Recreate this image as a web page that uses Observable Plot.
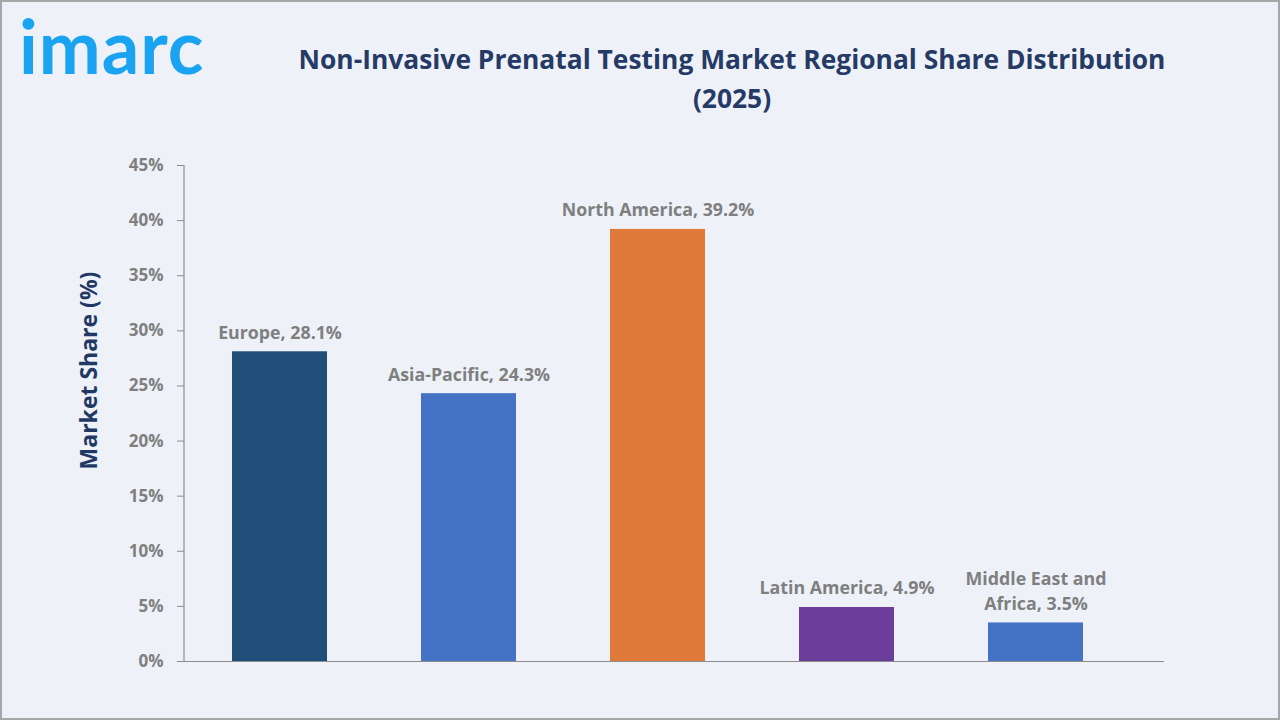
<!DOCTYPE html>
<html><head><meta charset="utf-8">
<script src="https://cdn.jsdelivr.net/npm/d3@7"></script>
<script src="https://cdn.jsdelivr.net/npm/@observablehq/plot@0.6"></script>
<style>
html,body{margin:0;padding:0;}
body{width:1280px;height:720px;background:#eef2f8;position:relative;overflow:hidden;font-family:"Open Sans",sans-serif;}
#frame{position:absolute;left:0;top:0;width:1276px;height:716px;border:2px solid #a6a6a6;pointer-events:none;z-index:5;}
#logo{position:absolute;left:19px;top:9px;font-family:"Lato",sans-serif;font-weight:700;font-size:74px;line-height:74px;color:#1aa3f0;letter-spacing:1px;}
#title{position:absolute;left:282px;width:900px;top:40px;text-align:center;font-weight:700;font-size:26.4px;line-height:39px;color:#263a66;}
#header{height:140px;}
#chart{position:absolute;left:0;top:140px;}
</style></head>
<body>
<div id="frame"></div>
<div id="logo">imarc</div>
<div id="title">Non-Invasive Prenatal Testing Market Regional Share Distribution<br>(2025)</div>
<div id="header"></div>
<div id="chart"></div>
<script>
const regions = ["Europe","Asia-Pacific","North America","Latin America","Middle East and Africa"];
const labels = ["Europe, 28.1%","Asia-Pacific, 24.3%","North America, 39.2%","Latin America, 4.9%","Middle East and\nAfrica, 3.5%"];
const shares = [28.1, 24.3, 39.2, 4.9, 3.5];
const colors = ["#1f4e79","#4472c4","#e07a3a","#6a3d9a","#4472c4"];
const yTicks = [0,5,10,15,20,25,30,35,40,45];

const data = regions.map((r,i)=>({region:r, share:shares[i], label:labels[i], color:colors[i]}));

const chart = Plot.plot({
  width: 1280,
  height: 580,
  marginTop: 25,
  marginBottom: 59,
  marginLeft: 184,
  marginRight: 116,
  style: {background: "transparent", fontFamily: "Open Sans, sans-serif"},
  x: {domain: regions, range: [185, 1130], paddingInner: 0.5, paddingOuter: 0.25, axis: null},
  y: {domain: [0, 45], ticks: yTicks, tickFormat: d => d + "%", label: null},
  marks: [
    Plot.barY(data, {x: "region", y: "share", fill: "color"}),
    Plot.ruleY([0], {stroke: "#8c8c8c", strokeWidth: 1.2}),
    Plot.axisY({ticks: yTicks, tickFormat: d => d + "%", tickSize: 7, tickPadding: 14, fontSize: 17, fontWeight: 700, fill: "#7f7f7f", stroke: "#8c8c8c", label: null}),
    Plot.text(data, {x: "region", y: "share", text: "label", lineAnchor: "bottom", dy: -13, fontSize: 17.8, fontWeight: 700, fill: "#7f7f7f", lineHeight: 1.4}),
    Plot.text(["Market Share (%)"], {frameAnchor: "left", dx: -95, dy: -43, rotate: -90, fontSize: 23, fontWeight: 700, fill: "#1f3864", textAnchor: "middle"})
  ]
});
// vertical axis line
const svg = d3.select(chart);
svg.append("line").attr("x1",184).attr("x2",184).attr("y1",25).attr("y2",521).attr("stroke","#8c8c8c").attr("stroke-width",1.2);
document.getElementById("chart").appendChild(chart);
</script>
</body></html>
